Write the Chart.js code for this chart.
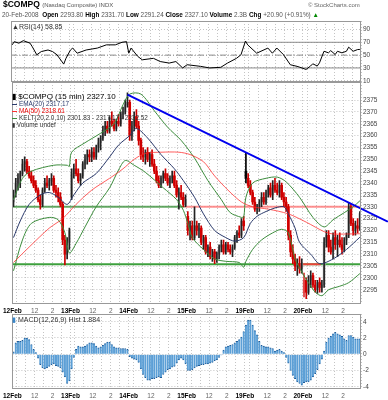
<!DOCTYPE html>
<html lang="en">
<head>
<meta charset="UTF-8">
<title>$COMPQ (15 min)</title>
<script src="https://cdn.jsdelivr.net/npm/chart.js"></script>
<style>
  body { margin: 0; background: #fff; }
  #wrap { position: relative; width: 388px; height: 400px; overflow: hidden; font-family: "Liberation Sans", Arial, sans-serif; }
  canvas { position: absolute; left: 0; top: 0; }
  .t { position: absolute; white-space: nowrap; line-height: 1; z-index: 5; }
  .sw { display: inline-block; width: 5px; height: 1px; vertical-align: middle; margin-right: 2px; }
  .v { color: #555; }
</style>
</head>
<body>
<div id="wrap">
  <canvas id="rsiChart" width="388" height="400"></canvas>
  <canvas id="priceChart" width="388" height="400"></canvas>
  <canvas id="macdChart" width="388" height="400"></canvas>

  <!-- header -->
  <div class="t" style="left:3px; top:0px; font-size:8.5px; font-weight:bold;">$COMPQ <span style="font-size:6px; font-weight:normal; color:#555;">(Nasdaq Composite) INDX</span></div>
  <div class="t" style="left:308px; top:2px; font-size:6px; color:#666;">© StockCharts.com</div>
  <div class="t" style="left:2px; top:12px; font-size:6.4px;"><span class="v">20-Feb-2008</span> &nbsp;<b>Open</b> <span class="v">2293.80</span> <b>High</b> <span class="v">2331.70</span> <b>Low</b> <span class="v">2291.24</span> <b>Close</b> <span class="v">2327.10</span> <b>Volume</b> <span class="v">2.3B</span> <b>Chg</b> <span class="v">+20.90 (+0.91%)</span> <span style="color:#080;">▲</span></div>

  <!-- panel labels -->
  <div class="t" style="left:12px; top:23px; font-size:7px; color:#333;">▲RSI(14) 58.85</div>
  <div class="t" style="left:12px; top:93px; font-size:8px; color:#000;">▮ $COMPQ (15 min) 2327.10</div>
  <div class="t" style="left:12px; top:101px; font-size:6.4px; color:#2b3a6b;"><span class="sw" style="background:#2b3a6b"></span>EMA(20) 2317.17</div>
  <div class="t" style="left:12px; top:108px; font-size:6.4px; color:#e00;"><span class="sw" style="background:#f33"></span>MA(50) 2318.61</div>
  <div class="t" style="left:12px; top:115px; font-size:6.4px; color:#333;"><span class="sw" style="background:#3c8c3c"></span>KELT(20,2.0,10) 2301.83 - 2317.17 - 2332.52</div>
  <div class="t" style="left:12px; top:121.5px; font-size:6.4px; color:#333;">▮ Volume undef</div>
  <div class="t" style="left:12px; top:315.5px; font-size:7px; color:#333;"><span style="color:#3a86c8">▮</span> MACD(12,26,9) Hist 1.884</div>
</div>

<script>
// ---- axes / labels ----
const days = ['12Feb', '13Feb', '14Feb', '15Feb', '19Feb', '20Feb'];
const barsPerDay = 26;                       // 15 min bars, 9:30 - 16:00
const hourMarks = [2, 6, 10, 14, 18, 22];    // 10:00 ... 15:00
const hourLabels = { 10: '12', 18: '2' };
const priceTicks = [2295, 2300, 2305, 2310, 2315, 2320, 2325, 2330, 2335, 2340, 2345, 2350, 2355, 2360, 2365, 2370, 2375];
const rsiTicks = [10, 30, 50, 70, 90];
const rsiLevels = [30, 50, 70];
const macdTicks = [-4, -2, 0, 2, 4];

// ---- price bars (OHLC, one row per day) ----
const opens = [
  2332,2336,2340,2342,2344,2348,2349,2345,2343,2341,2339,2337,2333,2331,2337,2340,2339,2341,2342,2337,2336,2334,2331,2316,2310,2315,
  2334,2344,2346,2344,2341,2343,2348,2350,2352,2351,2353,2351,2355,2357,2359,2362,2364,2362,2366,2365,2363,2366,2365,2369,2370,2373,
  2374,2360,2364,2368,2364,2358,2352,2351,2353,2350,2352,2348,2345,2341,2339,2342,2344,2342,2340,2342,2343,2339,2335,2336,2334,2331,
  2326,2320,2322,2317,2322,2320,2321,2315,2317,2311,2313,2309,2311,2308,2310,2313,2314,2311,2314,2312,2311,2313,2317,2319,2318,2324,
  2345,2342,2339,2336,2332,2329,2330,2332,2334,2332,2336,2338,2335,2339,2337,2336,2339,2334,2332,2330,2318,2311,2308,2305,2306,2304,
  2293.8,2299,2294,2299,2301,2297,2295,2298,2296,2297,2315,2318,2313,2311,2317,2314,2316,2314,2312,2316,2318,2330,2323,2320,2322,2321
];
const highs = [
  2337,2342,2344,2345,2350,2351,2350,2347,2345,2343,2341,2338,2335,2338,2342,2343,2342,2344,2343,2339,2338,2336,2332,2318,2317,2321,
  2346,2348,2350,2346,2344,2349,2352,2354,2354,2355,2355,2356,2359,2360,2364,2366,2366,2368,2370,2367,2367,2369,2370,2372,2375,2378,
  2375,2366,2370,2371,2366,2359,2355,2354,2355,2353,2354,2350,2347,2343,2343,2345,2346,2344,2343,2345,2345,2341,2338,2339,2336,2335,
  2328,2324,2324,2330,2324,2323,2322,2318,2318,2314,2315,2312,2312,2311,2314,2316,2316,2315,2315,2314,2314,2318,2320,2322,2325,2326,
  2353,2344,2341,2337,2334,2331,2333,2336,2336,2337,2339,2340,2341,2342,2340,2341,2340,2336,2334,2331,2320,2314,2310,2308,2309,2308,
  2302,2300,2301,2303,2302,2299,2299,2300,2299,2317,2320,2320,2316,2319,2320,2318,2319,2317,2317,2319,2331.7,2331,2325,2324,2325,2328
];
const lows = [
  2330,2334,2337,2338,2343,2345,2344,2342,2340,2338,2336,2332,2329,2330,2336,2338,2337,2339,2336,2334,2332,2330,2314,2305.5,2308,2312,
  2333,2342,2343,2340,2339,2342,2346,2348,2349,2349,2350,2350,2353,2354,2358,2360,2361,2361,2364,2362,2362,2364,2364,2367,2369,2372,
  2358,2358,2362,2363,2356,2350,2349,2348,2349,2347,2347,2344,2340,2338,2338,2340,2341,2339,2338,2340,2338,2334,2329,2333,2330,2330,
  2318,2316,2316,2316,2318,2317,2314,2312,2310,2309,2308,2307,2306,2306.5,2308,2311,2310,2310,2311,2310,2309,2312,2315,2317,2317,2320,
  2340,2338,2335,2331,2328,2327,2328,2330,2331,2331,2334,2334,2333,2336,2335,2334,2333,2330,2328,2316,2309,2306,2303,2301,2302,2302,
  2292,2291.24,2293,2296,2296,2294,2293.5,2294,2294,2296,2313,2311,2310,2308,2312,2309,2313,2310,2311,2314,2317,2322,2318,2318,2319,2320
];
const closes = [
  2336,2340,2342,2344,2348,2349,2345,2343,2341,2339,2337,2333,2331,2337,2340,2339,2341,2342,2337,2336,2334,2331,2316,2310,2315,2320,
  2344,2346,2344,2341,2343,2348,2350,2352,2351,2353,2351,2355,2357,2359,2362,2364,2362,2366,2365,2363,2366,2365,2369,2370,2373,2374,
  2360,2364,2368,2364,2358,2352,2351,2353,2350,2352,2348,2345,2341,2339,2342,2344,2342,2340,2342,2343,2339,2335,2336,2334,2331,2333,
  2320,2322,2317,2322,2320,2321,2315,2317,2311,2313,2309,2311,2308,2310,2313,2314,2311,2314,2312,2311,2313,2317,2319,2318,2324,2322,
  2342,2339,2336,2332,2329,2330,2332,2334,2332,2336,2338,2335,2339,2337,2336,2339,2334,2332,2330,2318,2311,2308,2305,2306,2304,2306.2,
  2299,2294,2299,2301,2297,2295,2298,2296,2297,2315,2318,2313,2311,2317,2314,2316,2314,2312,2316,2318,2330,2323,2320,2322,2321,2327.1
];

// ---- overlays, read at bar positions ----
const emaAt = [0,3,7,12,16,20,24,27,31,37,43,47,52,55,60,66,72,76,81,85,90,95,99,103,106,109,113,117,121,123,126,128,133,137,143,149,155];
const ema20 = [2317,2324,2331,2335,2336,2334,2331,2335,2340,2344,2351,2356,2360,2363,2359,2352,2346,2341,2334,2327,2320,2317,2315.5,2317,2323,2326,2328,2329.5,2330,2327,2321,2315,2310,2306,2308,2312,2317.17];
const maAt = [0,7,16,22,28,35,43,49,54,59,66,74,79,85,90,96,102,107,114,123,131,139,143,148,155];
const ma50 = [2306.5,2313,2321,2325,2331,2337,2342,2346,2350,2352.5,2353,2353,2352,2349,2343,2337,2332,2330,2329,2327,2323.5,2319.5,2318.5,2318.5,2318.61];
const kelUpAt = [0,4,8,18,24,25,26,32,39,45,49,52,57,63,69,75,81,87,93,97,102,103,104,107,113,118,122,128,134,139,143,148,152,155];
const kelUp = [2333,2342,2345,2347.5,2347.5,2347,2353,2357,2361,2365,2373,2377.5,2377.5,2370.5,2363.5,2358,2350.5,2341,2333,2327.5,2325.5,2325.5,2334,2340,2342,2342.5,2340.5,2334,2325.5,2321.5,2324.5,2327.5,2330,2332.52];
const kelLoAt = [0,4,8,16,20,23,25,28,32,37,43,47,50,54,59,67,73,76,78,80,85,90,95,101,103,104,107,111,116,120,123,126,129,132,135,138,141,146,150,155];
const kelLo = [2303,2316,2323,2325.5,2324.5,2319,2310.5,2314.5,2321.5,2330,2338,2345.5,2349.5,2347.5,2344.5,2338,2333,2328.5,2323,2317,2312,2308,2307,2306.5,2304.5,2307,2312,2316,2319,2320.5,2319,2308,2302.5,2298,2294,2292.5,2295,2296.5,2298,2301.83];

// hand drawn lines
const trendAt = [51.5, 168];
const trendPrice = [2377.3, 2323.7];
const resistance = 2330, resistSplit = 77;
const support = 2305.8, supportRedSpan = [126, 138];

// ---- RSI(14) ----
const rsiAt = [0,1,3,5,8,9,11,13,16,18,20,23,24,26,27,29,33,38,42,46,49,51,52,53,56,58,63,66,70,73,76,78,84,88,93,96,100,102,104,105,109,114,116,118,121,124,127,128,131,133,134,136,137,139,141,142,144,145,147,149,150,152,154,155];
const rsi = [66,71,68.6,72.6,68.6,63,50.5,55.6,58,55.6,50.5,36,45,58,61,53,58,61,66,66,70,71,53,61,48,42.7,45,40,37.6,40,30,35,32.5,30,31,37.6,45,50.5,72,66,53,61,53,61,50.5,35,32.5,31.4,27.7,33,36.5,33,38,56,53.6,57,51,56,53.6,56,62.4,56,58.7,58.85];

// ---- MACD(12,26,9) histogram, one value per bar ----
const macdHist = [
  0.3,1.4,1.6,1.6,1.7,2.0,2.0,1.8,1.2,0.6,0.2,-0.5,-1.3,-1.7,-1.8,-1.7,-1.5,-1.3,-1.2,-1.4,-1.5,-1.7,-2.2,-2.8,-3.6,-3.3,
  -1.8,-0.4,0.6,1.0,0.9,0.9,1.0,1.2,1.4,1.4,1.3,1.0,0.8,0.9,1.1,1.3,1.5,1.5,1.2,0.9,0.8,0.8,0.7,0.7,0.7,0.6,
  -0.3,-0.5,-0.6,-0.7,-1.0,-1.8,-2.5,-2.9,-3.2,-3.2,-3.0,-3.0,-2.9,-2.8,-2.9,-2.5,-2.2,-1.9,-1.8,-1.6,-1.5,-1.1,-0.7,-0.5,-0.7,-1.2,
  -2.0,-2.0,-1.9,-1.7,-1.5,-1.4,-1.3,-1.3,-1.2,-1.2,-1.1,-1.0,-0.8,-0.7,-0.4,-0.1,0.5,0.9,1.0,1.1,1.2,1.4,1.6,1.8,2.1,2.8,
  3.6,4.2,4.2,3.6,2.9,2.4,1.6,1.1,1.0,0.9,0.9,0.8,0.7,0.4,0.5,0.6,0.4,0.2,-0.4,-1.1,-2.0,-2.6,-3.0,-3.4,-3.6,-3.8,
  -3.5,-3.4,-3.4,-3.2,-2.8,-2.4,-1.9,-1.2,-0.6,0.4,1.5,2.0,2.2,2.5,2.7,2.5,2.4,2.2,1.9,1.7,2.3,2.3,2.1,1.9,1.9,1.884
];

const N = days.length * barsPerDay;
const FONT = '"Liberation Sans", Arial, sans-serif';
const GRID = '#c4c4c4';

// vertical grid: day starts + every hour
const xTicks = [];
days.forEach((d, k) => {
  xTicks.push(k * barsPerDay);
  hourMarks.forEach(h => xTicks.push(k * barsPerDay + h));
});
xTicks.push(N);

function xLabel(v) {
  const off = v % barsPerDay;
  if (off === 0) return days[v / barsPerDay] || '';
  return hourLabels[off] || '';
}

function xAxis(showLabels, h) {
  return {
    type: 'linear', min: 0, max: N, offset: false,
    afterBuildTicks: s => { s.ticks = xTicks.map(v => ({ value: v })); },
    afterFit: s => { s.height = h; },
    grid: { color: GRID, drawTicks: false, offset: false },
    border: { display: false, dash: [1, 2] },
    ticks: {
      display: showLabels, autoSkip: false, maxRotation: 0, padding: 3,
      callback: v => xLabel(v),
      font: c => ({ family: FONT, size: 6.5, weight: c.tick && c.tick.value % barsPerDay === 0 ? 'bold' : 'normal' }),
      color: c => c.tick && c.tick.value % barsPerDay === 0 ? '#000' : '#666'
    }
  };
}

function yAxis(min, max, ticks) {
  return {
    position: 'right', min, max,
    afterBuildTicks: s => { s.ticks = ticks.map(v => ({ value: v })); },
    afterFit: s => { s.width = 27; },
    grid: { color: GRID, drawTicks: false },
    border: { display: false, dash: [1, 2] },
    ticks: { padding: 2, font: { family: FONT, size: 6.5 }, color: '#444', callback: v => String(v) }
  };
}

// grey box round each panel
const frame = {
  id: 'frame',
  afterDraw(chart) {
    const { ctx, chartArea: a } = chart;
    ctx.save();
    ctx.strokeStyle = '#999';
    ctx.lineWidth = 1;
    ctx.strokeRect(Math.round(a.left) + 0.5, Math.round(a.top) + 0.5, Math.round(a.right - a.left) - 1, Math.round(a.bottom - a.top) - 1);
    ctx.restore();
  }
};

function options(pad, x, y) {
  return {
    responsive: false, animation: false, events: [],
    layout: { padding: pad, autoPadding: false },
    plugins: { legend: { display: false }, tooltip: { enabled: false } },
    scales: { x, y }
  };
}

const pts = (at, vals) => at.map((b, k) => ({ x: b + 0.5, y: vals[k] }));
const seg = (x0, x1, y) => [{ x: x0, y }, { x: x1, y }];
const line = (data, color, width, order, extra) =>
  Object.assign({ type: 'line', data, borderColor: color, borderWidth: width, pointRadius: 0, tension: 0.3, order }, extra || {});

// StockCharts colouring: hollow when close > open, red when close < previous close
function candleColors(i) {
  const up = closes[i] >= opens[i];
  const down = i > 0 && closes[i] < closes[i - 1];
  if (up) return down ? ['#f0a0a0', '#d33'] : ['#b4b4b4', '#222'];
  return down ? ['#dd0000', '#cc0000'] : ['#111', '#000'];
}
const bodyColors = closes.map((_, i) => candleColors(i)[0]);
const wickColors = closes.map((_, i) => candleColors(i)[1]);

// ---- RSI panel ----
new Chart(document.getElementById('rsiChart'), {
  type: 'line',
  data: {
    datasets: [
      line(pts(rsiAt, rsi), '#000', 1, 0, { tension: 0 }),
      ...rsiLevels.map(v => line(seg(0, N, v), '#8c8c8c', 1, 1, { tension: 0, borderDash: v === 50 ? [6, 2, 1, 2] : [] }))
    ]
  },
  options: options({ left: 11, top: 21, right: 0, bottom: 400 - 82 }, xAxis(false, 0), yAxis(8.1, 103.2, rsiTicks)),
  plugins: [frame]
});

// ---- price panel ----
new Chart(document.getElementById('priceChart'), {
  type: 'bar',
  data: {
    datasets: [
      line([{ x: trendAt[0], y: trendPrice[0] }, { x: trendAt[1], y: trendPrice[1] }], '#0000ee', 2, 0, { tension: 0, clip: false }),
      line(pts(emaAt, ema20), '#2b3a6b', 1, 1),
      line(pts(maAt, ma50), 'rgba(255,40,40,0.75)', 1, 1),
      line(pts(kelUpAt, kelUp), '#3c8c3c', 1, 1),
      line(pts(kelLoAt, kelLo), '#3c8c3c', 1, 1),
      { type: 'bar', data: closes.map((c, i) => ({ x: i + 0.5, y: [lows[i], highs[i]] })), backgroundColor: wickColors, barThickness: 1, grouped: false, order: 4 },
      { type: 'bar', data: closes.map((c, i) => ({ x: i + 0.5, y: [opens[i], c] })), backgroundColor: bodyColors, barThickness: 2, minBarLength: 1, grouped: false, order: 5 },
      line(seg(supportRedSpan[0], supportRedSpan[1], support), 'rgba(255,60,60,0.9)', 2, 6, { tension: 0 }),
      line(seg(0, resistSplit, resistance), 'rgba(50,140,50,0.75)', 2, 7, { tension: 0 }),
      line(seg(resistSplit, N, resistance), 'rgba(255,110,110,0.75)', 2, 7, { tension: 0 }),
      line(seg(0, N, support), 'rgba(40,150,40,0.9)', 2, 7, { tension: 0 })
    ]
  },
  options: options({ left: 11, top: 82, right: 0, bottom: 82 }, xAxis(true, 14), yAxis(2289, 2382.6, priceTicks)),
  plugins: [frame]
});

// ---- MACD panel ----
new Chart(document.getElementById('macdChart'), {
  type: 'bar',
  data: {
    datasets: [{
      data: macdHist.map((v, i) => ({ x: i + 0.5, y: v })),
      backgroundColor: '#5c9fd6', borderColor: '#1d5c9a',
      borderWidth: { top: 1, bottom: 1, left: 0, right: 0 }, borderSkipped: 'start',
      barThickness: 2
    }]
  },
  options: options({ left: 11, top: 314, right: 0, bottom: 1 }, xAxis(true, 10), yAxis(-4.28, 4.95, macdTicks)),
  plugins: [frame]
});
</script>
</body>
</html>
